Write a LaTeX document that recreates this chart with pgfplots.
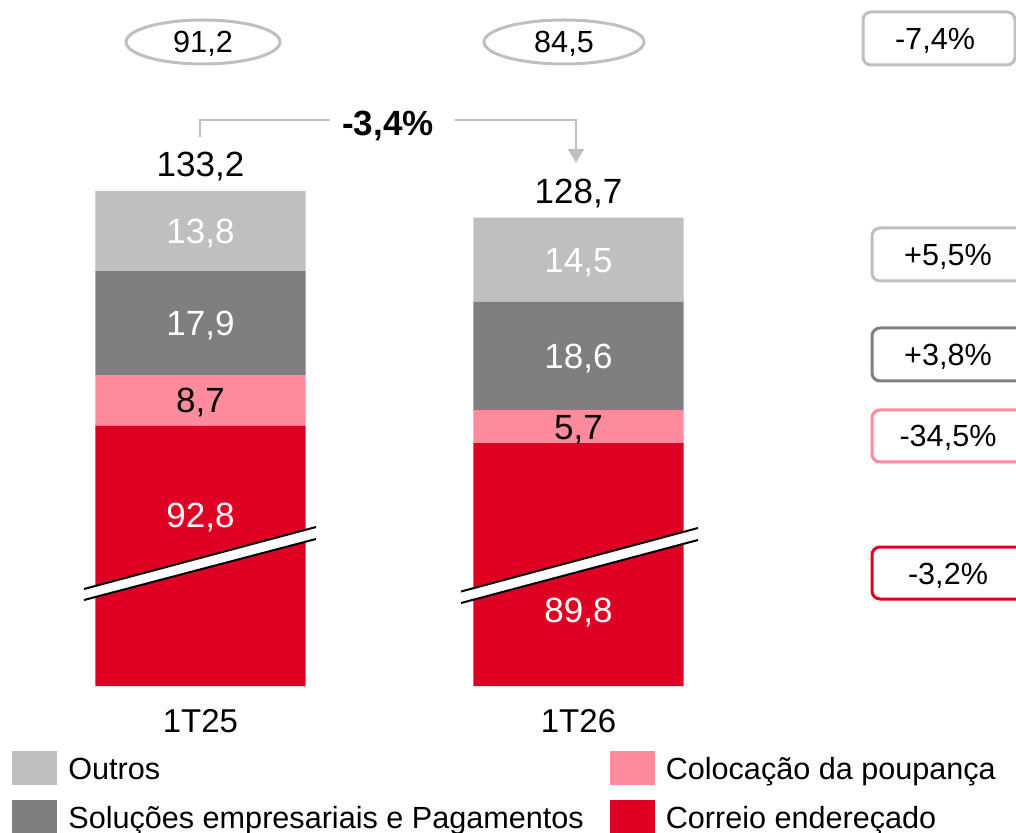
\documentclass[border=0pt]{standalone}
\usepackage{fontspec}
\setmainfont{Liberation Sans}
\usepackage{pgfplots}
\pgfplotsset{compat=1.18}
\usepackage{pgfplotstable}
\usetikzlibrary{arrows.meta}

\definecolor{outros}{HTML}{BFBFBF}
\definecolor{solucoes}{HTML}{7F7F7F}
\definecolor{coloc}{HTML}{FF8B9C}
\definecolor{correio}{HTML}{DF0024}

\newcommand{\fs}[1]{\fontsize{#1}{#1}\selectfont}

% receitas por segmento (M EUR)
\pgfplotstableread{
cat correio coloc solucoes outros
0   92.8    8.7   17.9     13.8
1   89.8    5.7   18.6     14.5
}\receitas

\pgfplotsset{
  seg/.style={ybar, bar width=0.5556, draw=none, forget plot},
  sq/.style={draw=none, legend image code/.code={\path[fill, draw=none] (0pt,-8.5pt) rectangle (22.5pt,8.5pt);}},
}
\tikzset{
  vlab/.style={font=\fs{17.5}, anchor=base, yshift=-6.27pt, inner sep=0pt},
  tlab/.style={font=\fs{17.5}, anchor=base, yshift=7pt, inner sep=0pt},
  plab/.style={font=\fs{15.3}, anchor=base, inner sep=0pt},
  pbox/.style={line width=1.5pt, rounded corners=4pt},
  brk/.style={black, line width=1pt},
}

\begin{document}
\begin{tikzpicture}
\begin{axis}[
  at={(0,0)}, anchor=north west,
  scale only axis, width=508pt, height=343pt,
  xmin=-0.5304, xmax=2.1574, ymin=48, ymax=166.07,
  stack plots=y,
  axis x line*=bottom, axis y line=none,
  x axis line style={draw=none}, xtick style={draw=none},
  xtick={0,1}, xticklabels={1T25,1T26},
  xticklabel style={font=\fs{16.5}, anchor=base, yshift=-23pt, inner sep=0pt},
  ytick=\empty,
  clip mode=individual,
  legend columns=2,
  legend style={draw=none, fill=none, inner sep=0pt,
    at={(axis description cs:0.01181,-0.09475)}, anchor=north west,
    font=\fs{15.3}, row sep=7.5pt,
    nodes={inner sep=0pt, text height=10.95pt, text depth=0pt},
    cells={anchor=west},
    /tikz/every odd column/.append style={column sep=5.5pt},
    /tikz/every even column/.append style={column sep=13pt}},
]
\addplot[seg, fill=correio]  table[x=cat, y=correio]  {\receitas};
\addplot[seg, fill=coloc]    table[x=cat, y=coloc]    {\receitas};
\addplot[seg, fill=solucoes] table[x=cat, y=solucoes] {\receitas};
\addplot[seg, fill=outros]   table[x=cat, y=outros]   {\receitas};

\addlegendimage{sq, fill=outros}   \addlegendentry{Outros}
\addlegendimage{sq, fill=coloc}    \addlegendentry{Colocação da poupança}
\addlegendimage{sq, fill=solucoes} \addlegendentry{Soluções empresariais e Pagamentos}
\addlegendimage{sq, fill=correio}  \addlegendentry{Correio endereçado}

% pontos centrais de cada segmento e topo das barras
\coordinate (a4) at (axis cs:0,126.3);
\coordinate (a3) at (axis cs:0,110.45);
\coordinate (a2) at (axis cs:0,97.15);
\coordinate (b4) at (axis cs:1,121.35);
\coordinate (b3) at (axis cs:1,104.8);
\coordinate (b2) at (axis cs:1,92.65);
\coordinate (ta) at (axis cs:0,133.2);
\coordinate (tb) at (axis cs:1,128.6);
\end{axis}

\node[vlab, white] at (a4) {13,8};
\node[vlab, white] at (a3) {17,9};
\node[vlab]        at (a2) {8,7};
\node[vlab, white] at (b4) {14,5};
\node[vlab, white] at (b3) {18,6};
\node[vlab]        at (b2) {5,7};
\node[tlab] at (ta) {133,2};
\node[tlab] at (tb) {128,7};

\begin{scope}[x=0.5pt, y=-0.5pt]
  % quebras do eixo
  \fill[white] (84,589) -- (316,527) -- (316,539) -- (84,600) -- cycle;
  \draw[brk] (84,589) -- (316,527);
  \draw[brk] (84,600) -- (316,539);
  \fill[white] (461,591.5) -- (698,528) -- (698,540) -- (461,603) -- cycle;
  \draw[brk] (461,591.5) -- (698,528);
  \draw[brk] (461,603) -- (698,540);
  % rotulos do correio, acima/abaixo da quebra
  \node[vlab, white] at (200.5,515) {92,8};
  \node[vlab, white] at (578.5,610) {89,8};

  % elipses
  \draw[outros, line width=1.5pt] (203,42) ellipse [x radius=77, y radius=22];
  \node[plab] at (203,53) {91,2};
  \draw[outros, line width=1.5pt] (564,42) ellipse [x radius=80, y radius=22];
  \node[plab] at (564,53) {84,5};

  % variacao total
  \draw[outros, line width=1pt] (200,137) -- (200,120) -- (330,120);
  \draw[outros, line width=1pt, -{Triangle[width=8pt, length=7pt]}]
    (455,120) -- (576,120) -- (576,163);
  \node[font=\bfseries\fs{17.5}, anchor=base, inner sep=0pt] at (388,135.5) {-3,4\%};

  % variacoes por segmento
  \draw[pbox, outros] (863,12) rectangle (1015,65);
  \node[plab] at (935,49.5) {-7,4\%};
  \draw[pbox, outros] (872,228) rectangle (1030,281);
  \node[plab] at (948,265.5) {+5,5\%};
  \draw[pbox, solucoes] (872,328) rectangle (1030,381);
  \node[plab] at (948,365.5) {+3,8\%};
  \draw[pbox, coloc] (872,410) rectangle (1030,462);
  \node[plab] at (948,447) {-34,5\%};
  \draw[pbox, correio] (872,547) rectangle (1030,599);
  \node[plab] at (948,584) {-3,2\%};
\end{scope}

\pgfresetboundingbox
\path[use as bounding box] (0pt,0pt) rectangle (508pt,-416.5pt);
\end{tikzpicture}
\end{document}
